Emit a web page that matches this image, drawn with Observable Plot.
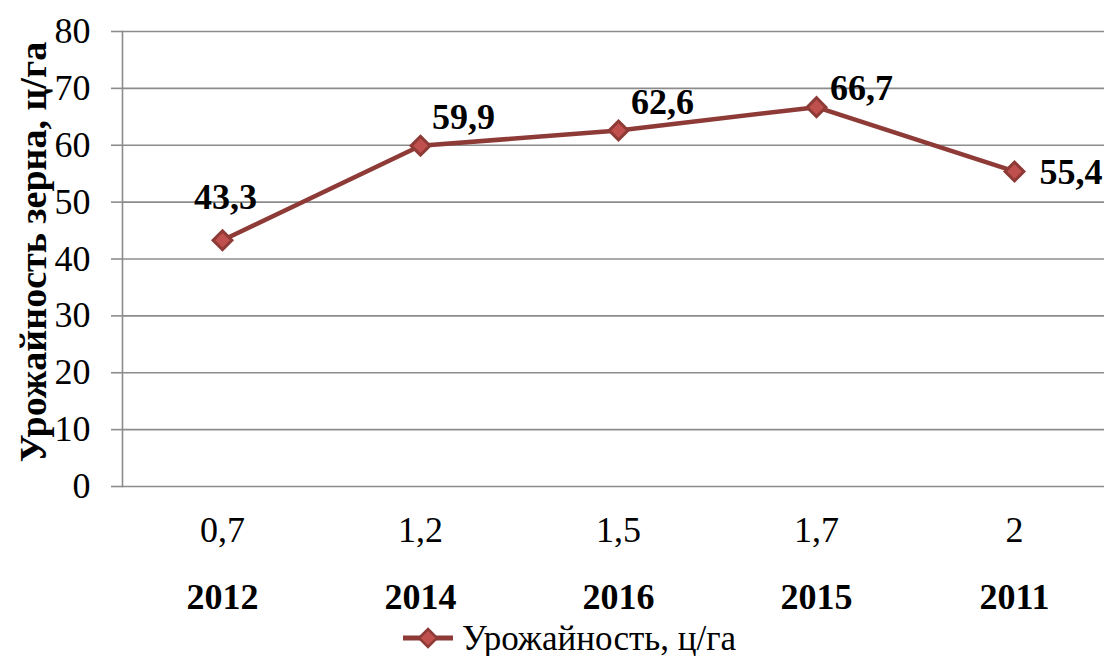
<!DOCTYPE html>
<html><head><meta charset="utf-8">
<script src="https://cdn.jsdelivr.net/npm/d3@7"></script>
<script src="https://cdn.jsdelivr.net/npm/@observablehq/plot@0.6"></script>
<style>
body{margin:0;background:#fff;font-family:"Liberation Serif","Times New Roman",serif;overflow:hidden;}
#legend{height:38px;display:flex;align-items:center;padding-left:402px;font-size:35px;line-height:1;color:#000;margin-top:1px;}
#legend svg{margin-right:8px;}
</style></head><body>
<div id="chart"></div>
<div id="legend"></div>
<script>
const years = ["2012", "2014", "2016", "2015", "2011"];
const subLabels = ["0,7", "1,2", "1,5", "1,7", "2"];
const yieldValues = [43.3, 59.9, 62.6, 66.7, 55.4];
const valueLabels = ["43,3", "59,9", "62,6", "66,7", "55,4"];
const seriesName = "Урожайность, ц/га";
const yTitle = "Урожайность зерна, ц/га";

const data = years.map((y, i) => ({year: y, value: yieldValues[i], label: valueLabels[i], i}));
const lineColor = "#8E3B38";
const markerFill = "#C0504D";
const gridColor = "#8c8c8c";
const labelOffsets = [[3, -43, "middle"], [43, -28, "middle"], [44, -28, "middle"], [45, -19, "middle"], [25, 1, "start"]];

const chart = Plot.plot({
  width: 1104,
  height: 618,
  marginTop: 31,
  marginBottom: 132,
  marginLeft: 122,
  marginRight: 0,
  style: {fontFamily: "'Liberation Serif','Times New Roman',serif", background: "#fff", overflow: "hidden"},
  x: {type: "band", domain: years, range: [122, 1114.5], padding: 0},
  y: {domain: [0, 80]},
  marks: [
    Plot.gridY(d3.range(0, 81, 10), {stroke: gridColor, strokeOpacity: 1, strokeWidth: 1.6}),
    Plot.frame({anchor: "left", stroke: gridColor, strokeWidth: 1.6}),
    Plot.axisY(d3.range(0, 81, 10), {tickSize: 11, stroke: gridColor, strokeWidth: 1.6, tickPadding: 21, fontSize: 36, fill: "#000", label: null}),
    Plot.axisX({tickSize: 0, tickPadding: 30, fontSize: 36, fill: "#000", tickFormat: d => subLabels[years.indexOf(d)], label: null}),
    Plot.axisX({tickSize: 0, tickPadding: 97, fontSize: 36, fontWeight: "bold", fill: "#000", label: null}),
    Plot.text([yTitle], {frameAnchor: "left", textAnchor: "middle", dx: -89, dy: -7, rotate: -90, fontSize: 38, fontWeight: "bold", fill: "#000"}),
    Plot.line(data, {x: "year", y: "value", stroke: lineColor, strokeWidth: 4.5}),
    Plot.dot(data, {x: "year", y: "value", symbol: "square", rotate: 45, r: 7.5, fill: markerFill, stroke: lineColor, strokeWidth: 3}),
    ...labelOffsets.map(([dx, dy, anchor], k) =>
      Plot.text(data.filter(d => d.i === k), {x: "year", y: "value", text: "label", dx, dy, textAnchor: anchor, fontSize: 36, fontWeight: "bold", fill: "#000"}))
  ]
});
document.getElementById("chart").appendChild(chart);

document.getElementById("legend").innerHTML =
  `<svg width="52" height="24" viewBox="0 0 52 24"><line x1="1" y1="12" x2="51" y2="12" stroke="${lineColor}" stroke-width="5"/><path d="M26 3 L35 12 L26 21 L17 12 Z" fill="${markerFill}" stroke="${lineColor}" stroke-width="2.5"/></svg><span>${seriesName}</span>`;
</script>
</body></html>
